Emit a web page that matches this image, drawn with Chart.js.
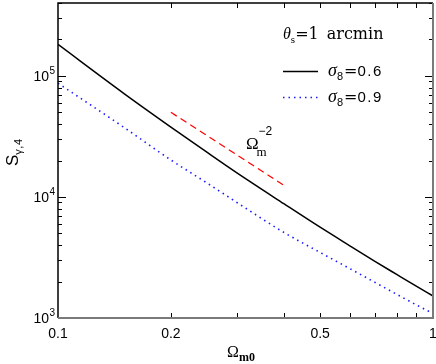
<!DOCTYPE html>
<html>
<head>
<meta charset="utf-8">
<script src="https://cdn.jsdelivr.net/npm/chart.js@4"></script>
<style>
  html, body { margin: 0; padding: 0; background: #fff; }
  #wrap { width: 436px; height: 364px; }
</style>
</head>
<body>
<div id="wrap"><canvas id="grafico" width="436" height="364"></canvas></div>
<script>
// valores
var omegaM = [0.1, 0.15, 0.2, 0.25, 0.3, 0.4, 0.5, 0.6, 0.7, 0.8, 0.9, 1.0];
var sigma06 = [182000, 71500, 37800, 23300, 15800, 8800, 5620, 3950, 2940, 2290, 1840, 1520];
var sigma09 = [87000, 37500, 20200, 13000, 9000, 5100, 3480, 2560, 1970, 1570, 1290, 1090];
var slopeX = [0.2, 0.4];
var slopeY = [50000, 12500];

var xTicks = [0.1, 0.2, 0.5, 1];
var xTickLabels = ['0.1', '0.2', '0.5', '1'];
var yTicks = [1000, 10000, 100000];
var yTickExp = ['3', '4', '5'];

function pares(xs, ys) {
    return xs.map(function(x, i) { return { x: x, y: ys[i] }; });
}

var sans = '"Liberation Sans", Arial, sans-serif';
var serif = '"DejaVu Serif", "Liberation Serif", serif';
var serif2 = '"Liberation Serif", "Times New Roman", serif';

// desenha texto com partes em tamanhos/deslocamentos diferentes
function textoComposto(ctx, partes, x, y) {
    var cx = x;
    partes.forEach(function(p) {
        ctx.font = p.font;
        ctx.letterSpacing = p.ls || '0px';
        ctx.fillText(p.t, cx, y + (p.dy || 0));
        cx += ctx.measureText(p.t).width + (p.gap || 0);
    });
    ctx.letterSpacing = '0px';
    return cx;
}

var eixos = {
    id: 'eixos',
    afterDraw: function(chart) {
        var ctx = chart.ctx;
        var xs = chart.scales.x, ys = chart.scales.y;
        var a = chart.chartArea;
        ctx.save();

        // ticks menores e maiores
        ctx.strokeStyle = '#000';
        ctx.lineWidth = 1;
        ctx.beginPath();
        for (var d = 0.1; d < 1; d *= 10) {
            for (var k = 2; k <= 9; k++) {
                var px = Math.round(xs.getPixelForValue(k * d)) + 0.5;
                ctx.moveTo(px, a.bottom); ctx.lineTo(px, a.bottom - 5);
                ctx.moveTo(px, a.top); ctx.lineTo(px, a.top + 5);
            }
        }
        for (var dec = 1000; dec <= 100000; dec *= 10) {
            for (var m = 1; m <= 9; m++) {
                var v = m * dec;
                if (v > ys.max) break;
                var py = Math.round(ys.getPixelForValue(v)) + 0.5;
                var len = (m === 1) ? 8 : 4;
                ctx.moveTo(a.left, py); ctx.lineTo(a.left + len, py);
                ctx.moveTo(a.right, py); ctx.lineTo(a.right - len, py);
            }
        }
        ctx.stroke();

        // moldura
        ctx.lineWidth = 1.5;
        ctx.strokeStyle = '#000';
        ctx.beginPath();
        ctx.moveTo(a.left, a.bottom); ctx.lineTo(a.left, a.top); ctx.lineTo(a.right, a.top);
        ctx.stroke();
        ctx.lineWidth = 2;
        ctx.strokeStyle = '#7a7a7a';
        ctx.beginPath();
        ctx.moveTo(a.left, a.bottom); ctx.lineTo(a.right, a.bottom); ctx.lineTo(a.right, a.top);
        ctx.stroke();

        ctx.fillStyle = '#000';
        ctx.textBaseline = 'alphabetic';

        // rótulos do eixo x
        ctx.font = '14px ' + sans;
        ctx.textAlign = 'center';
        xTicks.forEach(function(v, i) {
            ctx.fillText(xTickLabels[i], xs.getPixelForValue(v), 338);
        });

        // rótulos do eixo y (10^n)
        ctx.textAlign = 'left';
        yTicks.forEach(function(v, i) {
            var py = ys.getPixelForValue(v);
            ctx.font = '14px ' + sans;
            var w = ctx.measureText('10').width;
            ctx.fillText('10', 49 - w, py + 5);
            ctx.font = '10px ' + sans;
            ctx.fillText(yTickExp[i], 49.5, py - 2);
        });

        // título do eixo x
        textoComposto(ctx, [
            { t: 'Ω', font: '16px ' + serif2 },
            { t: 'm0', font: 'bold 12px ' + serif2, dy: 4 }
        ], 227, 357);

        // título do eixo y (rotacionado)
        ctx.save();
        ctx.translate(18, 166);
        ctx.rotate(-Math.PI / 2);
        textoComposto(ctx, [
            { t: 'S', font: '17px ' + sans },
            { t: 'γ,4', font: '11px ' + sans, dy: 4, ls: '0.5px' }
        ], 0, 0);
        ctx.restore();

        // legenda
        textoComposto(ctx, [
            { t: 'θ', font: 'italic 16px ' + serif2 },
            { t: 's', font: '11px ' + serif2, dy: 4 },
            { t: '=1', font: '16px ' + serif, gap: 8 },
            { t: 'arcmin', font: '16px ' + serif }
        ], 283, 39);

        ctx.lineWidth = 1.5;
        ctx.strokeStyle = '#000';
        ctx.setLineDash([]);
        ctx.beginPath(); ctx.moveTo(283, 71.5); ctx.lineTo(318, 71.5); ctx.stroke();
        ctx.strokeStyle = '#1a1aff';
        ctx.setLineDash([1.5, 4]);
        ctx.beginPath(); ctx.moveTo(283, 97.5); ctx.lineTo(318, 97.5); ctx.stroke();
        ctx.setLineDash([]);

        [['0.6', 76], ['0.9', 102]].forEach(function(l) {
            textoComposto(ctx, [
                { t: 'σ', font: 'italic 18px ' + serif2 },
                { t: '8', font: '11px ' + sans, dy: 4, gap: 1 },
                { t: '=', font: '16px ' + serif },
                { t: l[0], font: '15px ' + sans, ls: '1.5px' }
            ], 328, l[1]);
        });

        // anotação da inclinação
        ctx.font = '17px ' + serif2;
        ctx.fillText('Ω', 246, 149);
        ctx.font = '13px ' + serif2;
        ctx.fillText('m', 256.5, 156);
        ctx.font = '12px ' + sans;
        ctx.fillText('−2', 258.5, 135);

        ctx.restore();
    }
};

new Chart(document.getElementById('grafico'), {
    type: 'line',
    data: {
        datasets: [{
            label: 'σ8=0.6',
            data: pares(omegaM, sigma06),
            borderColor: '#000',
            borderWidth: 1.5,
            pointRadius: 0,
            cubicInterpolationMode: 'monotone'
        }, {
            label: 'σ8=0.9',
            data: pares(omegaM, sigma09),
            borderColor: '#1a1aff',
            borderWidth: 1.6,
            borderDash: [1.5, 4],
            pointRadius: 0,
            cubicInterpolationMode: 'monotone'
        }, {
            label: 'Ωm^-2',
            data: pares(slopeX, slopeY),
            borderColor: '#ff0000',
            borderWidth: 1.2,
            borderDash: [7, 4.5],
            pointRadius: 0
        }]
    },
    options: {
        responsive: false,
        animation: false,
        layout: { padding: { left: 58, right: 3, top: 3, bottom: 46 } },
        plugins: { legend: { display: false }, tooltip: { enabled: false } },
        scales: {
            x: { type: 'logarithmic', min: 0.1, max: 1, display: false },
            y: { type: 'logarithmic', min: 1000, max: 400000, display: false }
        }
    },
    plugins: [eixos]
});
</script>
</body>
</html>
